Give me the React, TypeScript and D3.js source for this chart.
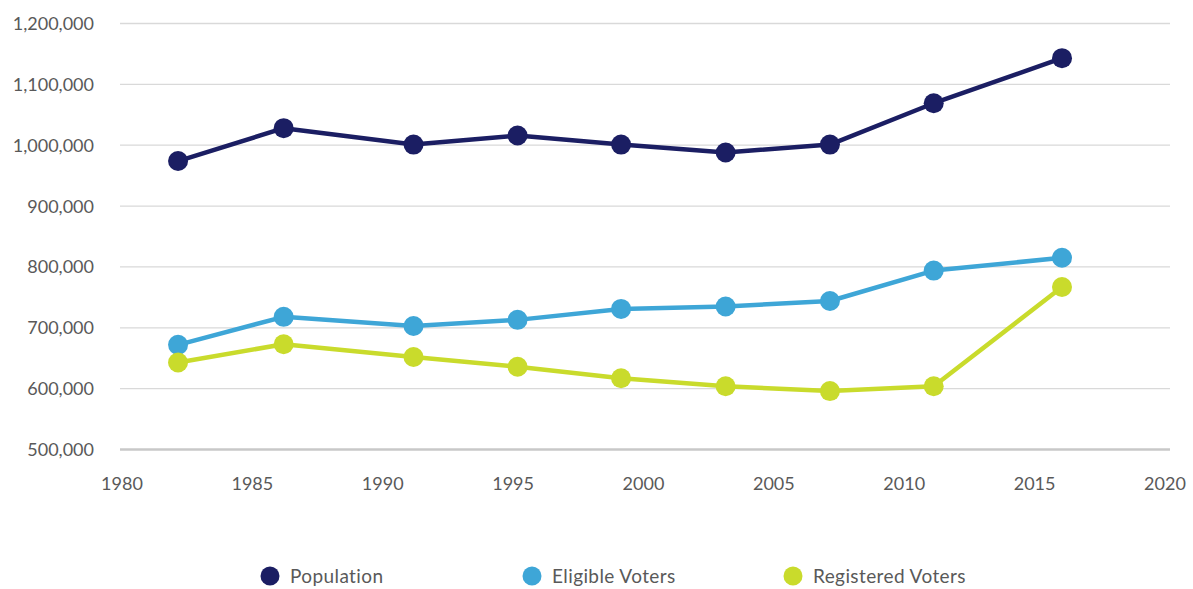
import * as d3 from 'd3';
import React, { useEffect, useRef } from 'react';

// election dates as decimal years
const years = [1982.15, 1986.2, 1991.18, 1995.17, 1999.14, 2003.15, 2007.15, 2011.13, 2016.05];
const population = [974000, 1028000, 1001000, 1016000, 1001000, 988000, 1001000, 1069000, 1143000];
const eligibleVoters = [672000, 718000, 703000, 713000, 731000, 735000, 744000, 794000, 815000];
const registeredVoters = [643000, 673000, 652000, 636000, 617000, 604000, 596000, 604000, 767000];

const seriesNames = ['Population', 'Eligible Voters', 'Registered Voters'];
const seriesColors = ['#1b1e63', '#3ea6d7', '#c9db2c'];
const xTicks = [1980, 1985, 1990, 1995, 2000, 2005, 2010, 2015, 2020];
const yTicks = [500000, 600000, 700000, 800000, 900000, 1000000, 1100000, 1200000];

const W = 1193;
const H = 589;

const App = () => {
	const chartRef = useRef<SVGSVGElement>(null);

	useEffect(() => {
		const svg = d3.select(chartRef.current);
		svg.selectAll('*').remove();

		const font = 'Lato, "Noto Sans", sans-serif';
		const x = d3.scaleLinear().domain([1980, 2020]).range([122, 1165]);
		const y = d3.scaleLinear().domain([500000, 1200000]).range([449.5, 23.5]);

		// grid lines
		svg.append('g')
			.selectAll('line')
			.data(yTicks.slice(1))
			.enter().append('line')
			.attr('x1', 120).attr('x2', 1170)
			.attr('y1', d => y(d)).attr('y2', d => y(d))
			.attr('stroke', '#d9d9d9')
			.attr('stroke-width', 1.3);

		// base axis line
		svg.append('line')
			.attr('x1', 120).attr('x2', 1170)
			.attr('y1', y(500000)).attr('y2', y(500000))
			.attr('stroke', '#c8c8c8')
			.attr('stroke-width', 2.5);

		// y labels
		svg.append('g')
			.selectAll('text')
			.data(yTicks)
			.enter().append('text')
			.attr('x', 94)
			.attr('y', d => y(d) + 6.5)
			.attr('text-anchor', 'end')
			.attr('font-family', font)
			.attr('font-size', 18)
			.attr('fill', '#595959')
			.text(d => d3.format(',')(d));

		// x labels
		svg.append('g')
			.selectAll('text')
			.data(xTicks)
			.enter().append('text')
			.attr('x', d => x(d))
			.attr('y', 490)
			.attr('text-anchor', 'middle')
			.attr('font-family', font)
			.attr('font-size', 18)
			.attr('fill', '#595959')
			.text(d => d);

		const allSeries = [population, eligibleVoters, registeredVoters];
		const line = d3.line<number>()
			.x((d, i) => x(years[i]))
			.y(d => y(d));

		allSeries.forEach((vals, s) => {
			const g = svg.append('g');
			g.append('path')
				.datum(vals)
				.attr('d', line)
				.attr('fill', 'none')
				.attr('stroke', seriesColors[s])
				.attr('stroke-width', 4.5)
				.attr('stroke-linejoin', 'round');
			g.selectAll('circle')
				.data(vals)
				.enter().append('circle')
				.attr('cx', (d, i) => x(years[i]))
				.attr('cy', d => y(d))
				.attr('r', 10)
				.attr('fill', seriesColors[s]);
		});

		// legend
		const legendX = [270, 532, 793];
		const legend = svg.append('g')
			.selectAll('g')
			.data(seriesNames)
			.enter().append('g')
			.attr('transform', (d, i) => 'translate(' + legendX[i] + ',576)');
		legend.append('circle')
			.attr('r', 9.5)
			.attr('fill', (d, i) => seriesColors[i]);
		legend.append('text')
			.attr('x', 20)
			.attr('y', 6.5)
			.attr('font-family', font)
			.attr('font-size', 19)
			.attr('letter-spacing', 0.4)
			.attr('fill', '#595959')
			.text(d => d);
	}, []);

	return (
		<svg
			ref={chartRef}
			width={W}
			height={H}
			style={{ position: 'absolute', left: 0, top: 0, background: '#fff' }}
		/>
	);
};

export default App;
